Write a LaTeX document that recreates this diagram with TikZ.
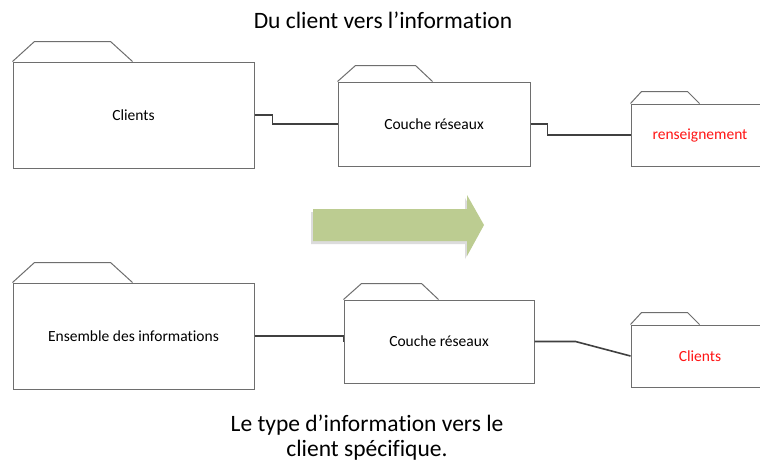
\documentclass[tikz,border=0pt]{standalone}
\usepackage{fontspec}
\setmainfont{Carlito}[Ligatures={NoCommon},Contextuals={NoAlternate}]
\usetikzlibrary{calc}
\begin{document}
\begin{tikzpicture}[x=1pt,y=1pt,
  pkg/.style={draw=boxgray,line width=1pt,rectangle,inner sep=0pt,
    font=\fontsize{15.5}{18}\selectfont,text=black},
  tabline/.style={draw=boxgray,line width=1pt,line join=miter},
  link/.style={draw=linkgray,line width=1.6pt},
  title/.style={font=\fontsize{23.5}{25}\selectfont,align=center,inner sep=0pt}]
\definecolor{boxgray}{RGB}{110,110,110}
\definecolor{linkgray}{RGB}{64,64,64}
\definecolor{arrowgreen}{RGB}{188,204,145}
\definecolor{labelred}{RGB}{255,20,20}
\useasboundingbox (0,0) rectangle (760,-464);
\clip (0,0) rectangle (760,-464);
\fill[white] (0,0) rectangle (760,-464);

% titles
\node[title] (ttop) at (383,-20) {Du client vers l’informa\kern0pt tion};
\node[title] (tbot) at (367,-438) {Le type d’informa\kern0pt tion vers le\\client spécifique.};

% upper row of packages
\node[pkg,minimum width=241pt,minimum height=106pt] (cli) at (133.5,-115) {Clients};
\node[pkg,minimum width=192pt,minimum height=84pt] (cr1) at (434,-124) {Couche réseaux};
\node[pkg,minimum width=138pt,minimum height=62pt,text=labelred] (ren) at (700,-135) {renseignement};

% lower row of packages
\node[pkg,minimum width=241pt,minimum height=106pt] (ens) at (133.5,-336) {Ensemble des informa\kern0pt tions};
\node[pkg,minimum width=190pt,minimum height=83pt] (cr2) at (439,-341.5) {Couche réseaux};
\node[pkg,minimum width=138pt,minimum height=62pt,text=labelred] (cl2) at (700,-356) {Clients};

% folder tabs
\draw[tabline] (cli.north west) -- ++(22,20) -- ++(76,0) -- ++(22,-20);
\draw[tabline] (ens.north west) -- ++(22,20) -- ++(76,0) -- ++(22,-20);
\draw[tabline] (cr1.north west) -- ++(18,16) -- ++(60,0) -- ++(17,-16);
\draw[tabline] (cr2.north west) -- ++(18,16) -- ++(60,0) -- ++(17,-16);
\draw[tabline] (ren.north west) -- ++(11,12) -- ++(46,0) -- ++(12,-12);
\draw[tabline] (cl2.north west) -- ++(11,12) -- ++(46,0) -- ++(12,-12);

% connectors
\coordinate (k1) at ($(cli.east)+(18,0)$);
\draw[link] (cli.east) -- (k1) |- (cr1.west);
\coordinate (k2) at ($(cr1.east)+(17,0)$);
\draw[link] (cr1.east) -- (k2) |- (ren.west);
\draw[link] (ens.east) -- (ens.east -| cr2.west) -- (cr2.west);
\coordinate (k3) at ($(cr2.east)+(41,0)$);
\draw[link] (cr2.east) -- (k3) -- (cl2.west);

% transition arrow with a soft shadow
\fill[black!30,opacity=0.45] (311,-212) -- (465,-212) -- (465,-198) -- (482,-228) -- (465,-259) -- (465,-244) -- (311,-244) -- cycle;
\fill[arrowgreen] (313,-209) -- (467,-209) -- (467,-195) -- (484,-225) -- (467,-256) -- (467,-241) -- (313,-241) -- cycle;
\end{tikzpicture}
\end{document}
